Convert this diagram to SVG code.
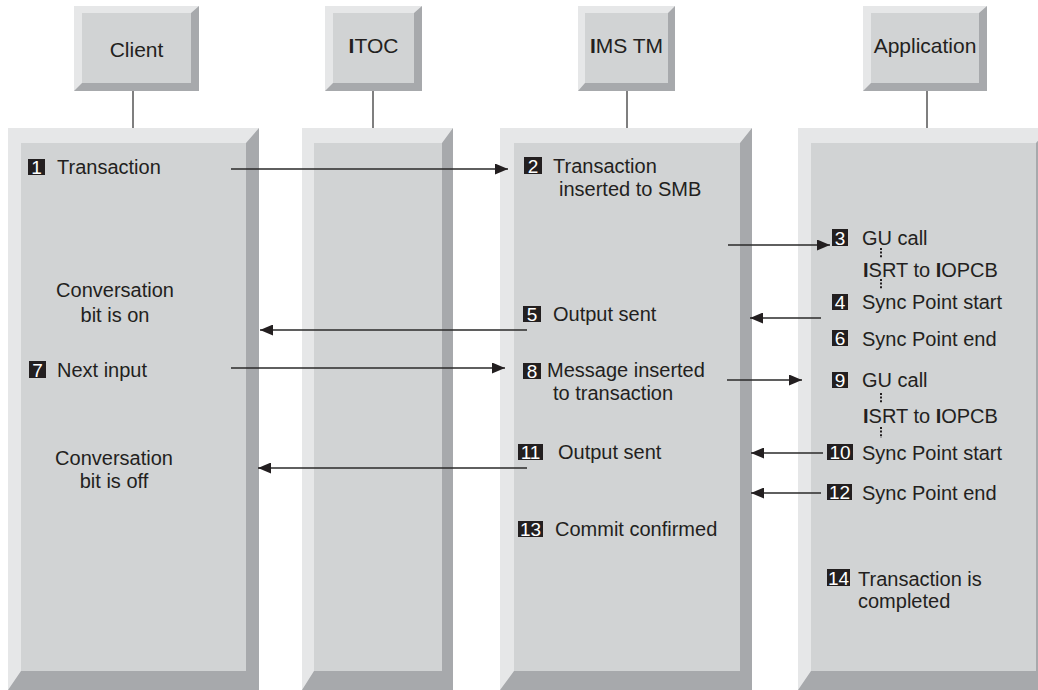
<svg xmlns="http://www.w3.org/2000/svg" width="1038" height="690" viewBox="0 0 1038 690">
<defs>
<style>
.lt{fill:#e6e7e8}
.dk{fill:#a7a9ac}
.fc{fill:#d1d3d4}
text{font-family:"Liberation Sans",Arial,Helvetica,sans-serif;fill:#231f20}
.hd{font-size:21px;text-anchor:middle}
.tx{font-size:20px}
.ct{font-size:20px;text-anchor:middle}
.bg{fill:#231f20}
.bn{font-size:19px;fill:#ffffff;text-anchor:middle}
.hl{stroke:#555555;stroke-width:1.5;fill:none}
.ar{stroke:#2a2a2a;stroke-width:1.3;fill:none;marker-end:url(#ah)}
.dt{stroke:#231f20;stroke-width:2;stroke-dasharray:2 1.6;fill:none}
.b{font-weight:bold}
</style>
<marker id="ah" viewBox="0 0 13 11" refX="13" refY="5.5" markerWidth="13" markerHeight="11" markerUnits="userSpaceOnUse" orient="auto">
<path d="M0,0 L13,5.5 L0,11 z" fill="#231f20"/>
</marker>
</defs>
<rect width="1038" height="690" fill="#ffffff"/>

<!-- header boxes -->
<g id="hdr-client">
<rect class="lt" x="74" y="6" width="125" height="85"/>
<polygon class="dk" points="199,6 199,91 74,91 82,83 191,83 191,13"/>
<rect class="fc" x="82" y="13" width="109" height="70"/>
<text class="hd" x="136.5" y="57">Client</text>
</g>
<g id="hdr-itoc">
<rect class="lt" x="325" y="6" width="97" height="85"/>
<polygon class="dk" points="422,6 422,91 325,91 333,83 414,83 414,13"/>
<rect class="fc" x="333" y="13" width="81" height="70"/>
<text class="hd" x="373.5" y="53"><tspan class="b">I</tspan>TOC</text>
</g>
<g id="hdr-imstm">
<rect class="lt" x="578" y="6" width="97" height="85"/>
<polygon class="dk" points="675,6 675,91 578,91 585,83 668,83 668,13"/>
<rect class="fc" x="585" y="13" width="83" height="70"/>
<text class="hd" x="626.5" y="53"><tspan class="b">I</tspan>MS TM</text>
</g>
<g id="hdr-app">
<rect class="lt" x="863" y="6" width="124" height="85"/>
<polygon class="dk" points="987,6 987,91 863,91 871,83 979,83 979,13"/>
<rect class="fc" x="871" y="13" width="108" height="70"/>
<text class="hd" x="925" y="53">Application</text>
</g>

<!-- lanes -->
<g id="lane-client">
<rect class="lt" x="8" y="128" width="251" height="562"/>
<polygon class="dk" points="259,128 259,690 8,690 21,671 246,671 246,143"/>
<rect class="fc" x="21" y="143" width="225" height="528"/>
<rect class="bg" x="28" y="159" width="17" height="16"/>
<text class="bn" x="36.5" y="174">1</text>
<text class="tx" x="57" y="174">Transaction</text>
<text class="ct" x="115" y="297">Conversation</text>
<text class="ct" x="115" y="322">bit is on</text>
<rect class="bg" x="29" y="361" width="17" height="17"/>
<text class="bn" x="37.5" y="377">7</text>
<text class="tx" x="57" y="377">Next input</text>
<text class="ct" x="114" y="465">Conversation</text>
<text class="ct" x="114" y="488">bit is off</text>
</g>
<g id="lane-itoc">
<rect class="lt" x="302" y="128" width="151" height="562"/>
<polygon class="dk" points="453,128 453,690 302,690 314,671 442,671 442,143"/>
<rect class="fc" x="314" y="143" width="128" height="528"/>
</g>
<g id="lane-imstm">
<rect class="lt" x="500" y="128" width="252" height="562"/>
<polygon class="dk" points="752,128 752,690 500,690 514,671 740,671 740,143"/>
<rect class="fc" x="514" y="143" width="226" height="528"/>
<rect class="bg" x="524" y="157" width="18" height="17"/>
<text class="bn" x="533" y="173">2</text>
<text class="tx" x="553" y="173">Transaction</text>
<text class="tx" x="559" y="196">inserted to SMB</text>
<rect class="bg" x="523" y="306" width="18" height="16"/>
<text class="bn" x="532" y="321">5</text>
<text class="tx" x="553" y="321">Output sent</text>
<rect class="bg" x="523" y="363" width="18" height="16"/>
<text class="bn" x="532" y="378">8</text>
<text class="tx" x="547" y="377">Message inserted</text>
<text class="tx" x="553" y="400">to transaction</text>
<rect class="bg" x="518" y="444" width="25" height="16"/>
<text class="bn" x="530.5" y="459">11</text>
<text class="tx" x="558" y="459">Output sent</text>
<rect class="bg" x="518" y="521" width="25" height="16"/>
<text class="bn" x="530.5" y="536">13</text>
<text class="tx" x="555" y="536">Commit confirmed</text>
</g>
<g id="lane-app">
<rect class="lt" x="798" y="128" width="252" height="562"/>
<polygon class="dk" points="1050,128 1050,690 798,690 811,671 1036,671 1036,143"/>
<rect class="fc" x="811" y="143" width="225" height="528"/>
<rect class="bg" x="832" y="229" width="16" height="17"/>
<text class="bn" x="840" y="245">3</text>
<text class="tx" x="862" y="245">GU call</text>
<text class="tx" x="863" y="277"><tspan class="b">I</tspan>SRT to <tspan class="b">I</tspan>OPCB</text>
<rect class="bg" x="832" y="294" width="16" height="16"/>
<text class="bn" x="840" y="309">4</text>
<text class="tx" x="862" y="309">Sync Point start</text>
<rect class="bg" x="832" y="330" width="16" height="16"/>
<text class="bn" x="840" y="345">6</text>
<text class="tx" x="862" y="346">Sync Point end</text>
<rect class="bg" x="832" y="372" width="16" height="16"/>
<text class="bn" x="840" y="387">9</text>
<text class="tx" x="862" y="387">GU call</text>
<text class="tx" x="863" y="423"><tspan class="b">I</tspan>SRT to <tspan class="b">I</tspan>OPCB</text>
<rect class="bg" x="827" y="444" width="26" height="16"/>
<text class="bn" x="840" y="459">10</text>
<text class="tx" x="862" y="460">Sync Point start</text>
<rect class="bg" x="827" y="484" width="25" height="16"/>
<text class="bn" x="839.5" y="499">12</text>
<text class="tx" x="862" y="500">Sync Point end</text>
<rect class="bg" x="827" y="569" width="23" height="17"/>
<text class="bn" x="838.5" y="585">14</text>
<text class="tx" x="858" y="586">Transaction is</text>
<text class="tx" x="858" y="608">completed</text>
</g>

<!-- connectors -->
<g id="connectors">
<line class="hl" x1="133" y1="91" x2="133" y2="128"/>
<line class="hl" x1="373" y1="91" x2="373" y2="128"/>
<line class="hl" x1="627" y1="91" x2="627" y2="128"/>
<line class="hl" x1="927" y1="91" x2="927" y2="128"/>
<line class="ar" x1="231" y1="169" x2="508" y2="169"/>
<line class="ar" x1="728" y1="245" x2="830" y2="245"/>
<line class="ar" x1="821" y1="318" x2="750" y2="318"/>
<line class="ar" x1="527" y1="330" x2="260" y2="330"/>
<line class="ar" x1="231" y1="368" x2="505" y2="368"/>
<line class="ar" x1="727" y1="380" x2="802" y2="380"/>
<line class="ar" x1="823" y1="453" x2="751" y2="453"/>
<line class="ar" x1="527" y1="468" x2="258" y2="468"/>
<line class="ar" x1="821" y1="493" x2="751" y2="493"/>
<path class="dt" d="M881,248 V258 M881,279 V289 M881,393 V403 M881,427 V438"/>
</g>
</svg>
